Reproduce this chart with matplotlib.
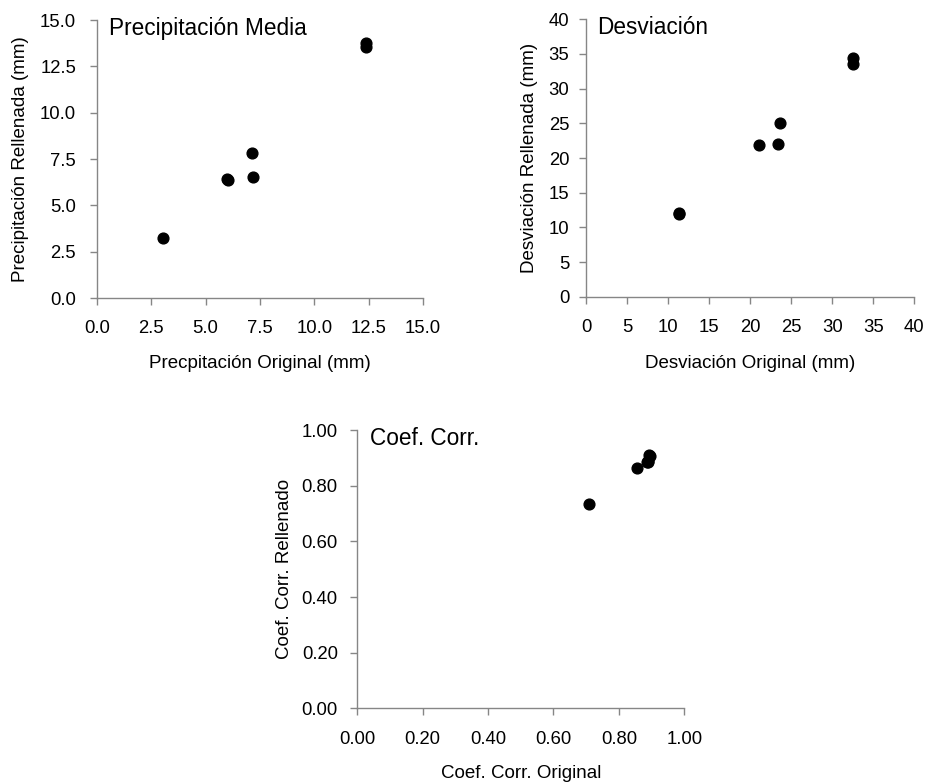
import matplotlib
matplotlib.use('Agg')
import matplotlib.pyplot as plt
import numpy as np
from matplotlib.ticker import FormatStrFormatter

plt.rcParams['font.family'] = ['Liberation Sans', 'DejaVu Sans']

# precipitacion media (mm)
prec_orig = [3.05, 6.0, 6.05, 7.12, 7.19, 12.38, 12.38]
prec_rell = [3.22, 6.4, 6.35, 7.84, 6.55, 13.78, 13.56]

# desviacion (mm)
desv_orig = [11.3, 11.35, 21.1, 23.4, 23.6, 32.5, 32.5]
desv_rell = [12.1, 11.9, 21.9, 22.0, 25.0, 34.4, 33.6]

# coeficiente de correlacion
coef_orig = [0.71, 0.855, 0.885, 0.89, 0.895, 0.893, 0.89]
coef_rell = [0.735, 0.865, 0.885, 0.89, 0.905, 0.91, 0.885]

axis_gray = '#868686'
tick_fs = 13.3
label_fs = 13.5
title_fs = 16.3


def style_ax(ax, lim, step, fmt, ypad):
    for side in ['top', 'right']:
        ax.spines[side].set_visible(False)
    for side in ['left', 'bottom']:
        ax.spines[side].set_color(axis_gray)
        ax.spines[side].set_linewidth(1.0)
    ax.set_xlim(0, lim)
    ax.set_ylim(0, lim)
    ticks = np.arange(0, lim + step / 2, step)
    ax.set_xticks(ticks)
    ax.set_yticks(ticks)
    ax.xaxis.set_major_formatter(FormatStrFormatter(fmt))
    ax.yaxis.set_major_formatter(FormatStrFormatter(fmt))
    ax.tick_params(direction='out', length=5, width=1, color=axis_gray,
                   labelsize=tick_fs, labelcolor='black')
    ax.tick_params(axis='x', pad=11)
    ax.tick_params(axis='y', pad=ypad)


fig = plt.figure(figsize=(9.27, 7.82), dpi=100)

ax1 = fig.add_axes([0.1046, 0.6189, 0.3517, 0.3555])
ax1.scatter(prec_orig, prec_rell, s=60, color='black', zorder=3, clip_on=False)
style_ax(ax1, 15, 2.5, '%.1f', 10)
ax1.set_xlabel('Precpitación Original (mm)', fontsize=label_fs, labelpad=12.5)
ax1.set_ylabel('Precipitación Rellenada (mm)', fontsize=label_fs, labelpad=8)
ax1.text(0.036, 1.012, 'Precipitación Media', transform=ax1.transAxes,
         fontsize=title_fs, va='top', ha='left')

ax2 = fig.add_axes([0.6322, 0.6206, 0.3541, 0.3547])
ax2.scatter(desv_orig, desv_rell, s=60, color='black', zorder=3, clip_on=False)
style_ax(ax2, 40, 5, '%d', 7)
ax2.set_xlabel('Desviación Original (mm)', fontsize=label_fs, labelpad=14)
ax2.set_ylabel('Desviación Rellenada (mm)', fontsize=label_fs, labelpad=8)
ax2.text(0.033, 1.012, 'Desviación', transform=ax2.transAxes,
         fontsize=title_fs, va='top', ha='left')

ax3 = fig.add_axes([0.3854, 0.0942, 0.3528, 0.3559])
ax3.scatter(coef_orig, coef_rell, s=60, color='black', zorder=3, clip_on=False)
style_ax(ax3, 1.0, 0.2, '%.2f', 9)
ax3.set_xlabel('Coef. Corr. Original', fontsize=label_fs, labelpad=12.5)
ax3.set_ylabel('Coef. Corr. Rellenado', fontsize=label_fs, labelpad=6.5)
ax3.text(0.04, 1.012, 'Coef. Corr.', transform=ax3.transAxes,
         fontsize=title_fs, va='top', ha='left')

fig.savefig('out.png', dpi=100)
